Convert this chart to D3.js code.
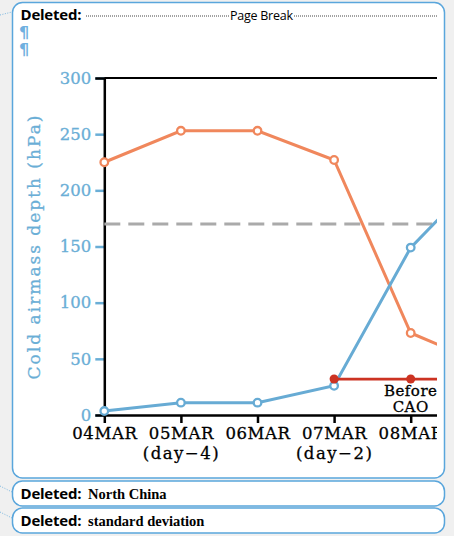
<!DOCTYPE html>
<html>
<head>
<meta charset="utf-8">
<script src="https://cdn.jsdelivr.net/npm/d3@7"></script>
<style>
  html, body { margin: 0; padding: 0; background: #f0f0f0; }
  svg { display: block; }
</style>
</head>
<body>
<script>
// Daily cold-airmass depth around the cold air outbreak (hPa)
const dates = ["04MAR", "05MAR", "06MAR", "07MAR", "08MAR", "09MAR"];
const labelledDates = ["04MAR", "05MAR", "06MAR", "07MAR", "08MAR"];
const dayLabels = ["", "(day\u22124)", "", "(day\u22122)", ""];
const depthOrange = [225, 253, 253, 227, 73, 44];
const depthBlue = [3.5, 11, 11, 26, 149, 219];
const beforeCAODates = ["07MAR", "08MAR", "09MAR"];
const beforeCAO = [32, 32, 32];
const referenceDepth = 170;
const yTicks = [0, 50, 100, 150, 200, 250, 300];

const W = 454, H = 536;
const svg = d3.select("body").append("svg").attr("width", W).attr("height", H);

// ---- review balloons ----
const blue = "#6aaed6";
function balloon(y0, y1) {
  svg.append("rect").attr("x", 12.5).attr("y", y0).attr("width", 432).attr("height", y1 - y0)
    .attr("rx", 10).attr("ry", 10).attr("fill", "#fff").attr("stroke", "#5aa6dc").attr("stroke-width", 1.5);
}
function connector(x1, y1, x2, y2) {
  svg.append("line").attr("x1", x1).attr("y1", y1).attr("x2", x2).attr("y2", y2)
    .attr("stroke", "#7ab7e0").attr("stroke-width", 1).attr("stroke-dasharray", "1,1.5");
}
balloon(2.5, 478);
balloon(481, 506);
balloon(508, 533);
connector(0, 15, 12, 12);
connector(0, 486, 12, 492);
connector(0, 512, 12, 518);

const label = svg.append("g").attr("font-family", "Open Sans").attr("font-size", 15).attr("font-weight", "bold").attr("fill", "#000");
label.append("text").attr("x", 20.5).attr("y", 20).attr("textLength", 61).text("Deleted:");
svg.append("line").attr("x1", 86).attr("x2", 229).attr("y1", 16).attr("y2", 16)
  .attr("stroke", "#444").attr("stroke-width", 1).attr("stroke-dasharray", "1,1");
svg.append("text").attr("x", 230).attr("y", 19.5).attr("font-family", "Open Sans").attr("font-size", 12.5)
  .attr("textLength", 63).text("Page Break");
svg.append("line").attr("x1", 294).attr("x2", 437).attr("y1", 16).attr("y2", 16)
  .attr("stroke", "#444").attr("stroke-width", 1).attr("stroke-dasharray", "1,1");
[37.5, 55].forEach(yy => svg.append("text").attr("x", 19).attr("y", yy).attr("font-family", "DejaVu Sans")
  .attr("font-size", 16).attr("font-weight", "bold").attr("fill", "#6fb0e0").text("\u00b6"));

[[499, "North China"], [526, "standard deviation"]].forEach(([yy, t]) => {
  label.append("text").attr("x", 20.5).attr("y", yy).attr("textLength", 61).text("Deleted:");
  svg.append("text").attr("x", 88).attr("y", yy).attr("font-family", "Liberation Serif")
    .attr("font-size", 14.5).attr("font-weight", "bold").text(t);
});

// ---- chart ----
const x = d3.scalePoint().domain(dates).range([104.3, 104.3 + 76.6 * (dates.length - 1)]);
const y = d3.scaleLinear().domain([0, 300]).range([415, 78]);
const clipRight = 437;

svg.append("defs").append("clipPath").attr("id", "plotclip")
  .append("rect").attr("x", 0).attr("y", 60).attr("width", clipRight).attr("height", 410);

const chart = svg.append("g").attr("clip-path", "url(#plotclip)");

// frame top line
chart.append("line").attr("x1", x(dates[0])).attr("x2", 480).attr("y1", y(300)).attr("y2", y(300))
  .attr("stroke", "#000").attr("stroke-width", 2.2);

// y axis: blue ticks and labels, black spine
const yAxis = chart.append("g").attr("transform", `translate(${x(dates[0])},0)`)
  .call(d3.axisLeft(y).tickValues(yTicks).tickSize(9).tickPadding(4));
yAxis.select(".domain").attr("stroke", "#000").attr("stroke-width", 2.5);
yAxis.selectAll(".tick line").attr("stroke", blue).attr("stroke-width", 2.5);
yAxis.selectAll(".tick text").attr("fill", blue).attr("font-family", "DejaVu Serif").attr("font-size", 16.5)
  .attr("stroke", blue).attr("stroke-width", 0.3);
yAxis.select(".domain").raise();

// x axis
const xAxis = chart.append("g").attr("transform", `translate(0,${y(0)})`)
  .call(d3.axisBottom(x).tickValues(labelledDates).tickSize(8).tickPadding(4).tickSizeOuter(0));
xAxis.select(".domain").attr("stroke", "#000").attr("stroke-width", 2.5);
xAxis.selectAll(".tick line").attr("stroke", "#000").attr("stroke-width", 2.5);
xAxis.selectAll(".tick text").attr("fill", "#000").attr("font-family", "DejaVu Serif").attr("font-size", 16.5)
  .attr("letter-spacing", 0.6).attr("stroke", "#000").attr("stroke-width", 0.3);
xAxis.selectAll(".tick").append("text")
  .attr("y", 44).attr("fill", "#000").attr("font-family", "DejaVu Serif").attr("font-size", 16.5)
  .attr("stroke", "#000").attr("stroke-width", 0.3)
  .attr("letter-spacing", 1.5).attr("text-anchor", "middle")
  .text((d, i) => dayLabels[i]);

// reference depth
chart.append("line").attr("x1", x(dates[0])).attr("x2", 480).attr("y1", y(referenceDepth)).attr("y2", y(referenceDepth))
  .attr("stroke", "#aaaaaa").attr("stroke-width", 3).attr("stroke-dasharray", "16,8");

const line = d3.line().x(d => x(d[0])).y(d => y(d[1]));

function series(values, color) {
  const pts = dates.map((d, i) => [d, values[i]]);
  chart.append("path").datum(pts).attr("d", line).attr("fill", "none")
    .attr("stroke", color).attr("stroke-width", 3);
  chart.selectAll(null).data(pts).enter().append("circle")
    .attr("cx", d => x(d[0])).attr("cy", d => y(d[1])).attr("r", 3.8)
    .attr("fill", "#fff").attr("stroke", color).attr("stroke-width", 2.3);
}
series(depthOrange, "#f0875c");
series(depthBlue, "#67abd4");

// before-CAO depth
const redPts = beforeCAODates.map((d, i) => [d, beforeCAO[i]]);
chart.append("path").datum(redPts).attr("d", line).attr("fill", "none")
  .attr("stroke", "#cc3322").attr("stroke-width", 2.8);
chart.selectAll(null).data(redPts).enter().append("circle")
  .attr("cx", d => x(d[0])).attr("cy", d => y(d[1])).attr("r", 4.5).attr("fill", "#cc3322");

const note = chart.append("text").attr("font-family", "DejaVu Serif").attr("font-size", 15)
  .attr("text-anchor", "middle").attr("fill", "#000").attr("letter-spacing", 0.5)
  .attr("stroke", "#000").attr("stroke-width", 0.3);
note.append("tspan").attr("x", x("08MAR")).attr("y", y(beforeCAO[1]) + 17).text("Before");
note.append("tspan").attr("x", x("08MAR")).attr("y", y(beforeCAO[1]) + 33).text("CAO");

// y axis title
svg.append("text").attr("transform", `translate(40,246.5) rotate(-90)`)
  .attr("text-anchor", "middle").attr("font-family", "DejaVu Serif").attr("font-size", 17)
  .attr("fill", blue).attr("stroke", blue).attr("stroke-width", 0.3)
  .attr("letter-spacing", 2).text("Cold airmass depth (hPa)");
</script>
</body>
</html>
